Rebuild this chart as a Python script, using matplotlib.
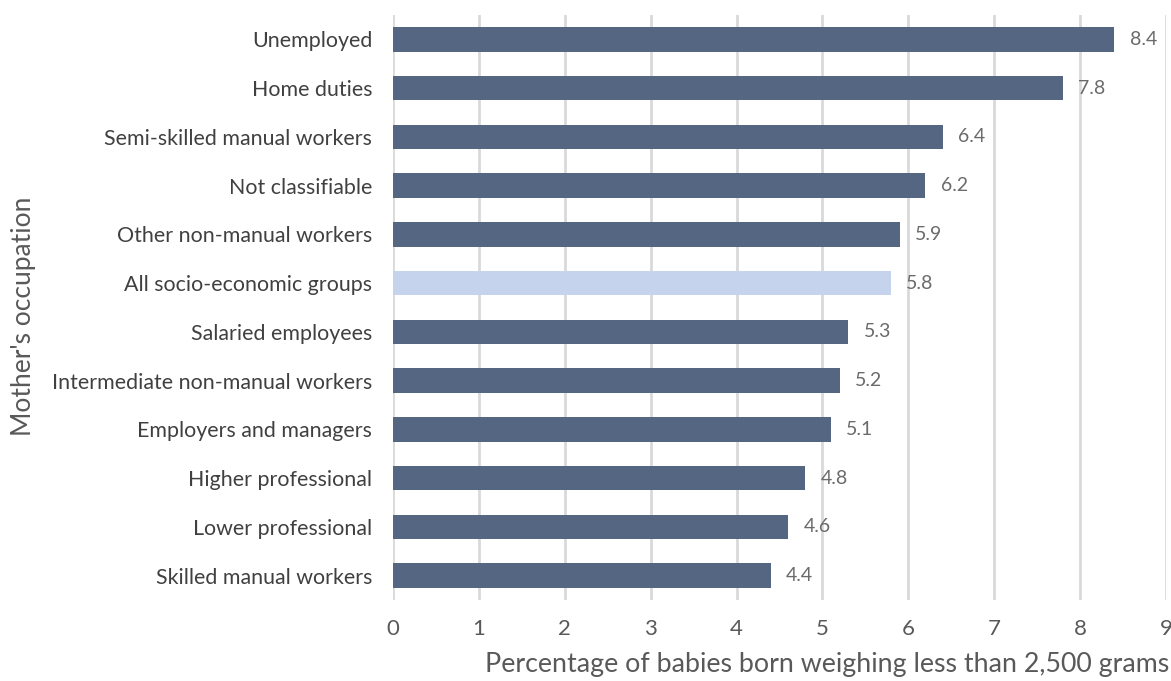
import matplotlib.pyplot as plt
import numpy as np

plt.rcParams['font.family'] = ['Lato', 'DejaVu Sans']

occupations = ["Unemployed", "Home duties", "Semi-skilled manual workers",
               "Not classifiable", "Other non-manual workers",
               "All socio-economic groups", "Salaried employees",
               "Intermediate non-manual workers", "Employers and managers",
               "Higher professional", "Lower professional",
               "Skilled manual workers"]
low_weight_pct = [8.4, 7.8, 6.4, 6.2, 5.9, 5.8, 5.3, 5.2, 5.1, 4.8, 4.6, 4.4]
highlight = "All socio-economic groups"

dark = "#556683"
light = "#c5d4ec"
colors = [light if o == highlight else dark for o in occupations]

fig = plt.figure(figsize=(11.71, 6.81), dpi=100)
ax = fig.add_axes([0.3356, 0.119, 0.9957 - 0.3356, 0.978 - 0.119])

y = np.arange(len(occupations))[::-1]
ax.barh(y, low_weight_pct, height=0.5, color=colors, zorder=3)

for yi, v in zip(y, low_weight_pct):
    ax.annotate(f"{v:.1f}", (v, yi), xytext=(11, 0), textcoords="offset points",
                va="center", ha="left", fontsize=14, color="#6b6b6b")

ax.set_xlim(0, 9)
ax.set_ylim(-0.5, len(occupations) - 0.5)
ax.set_xticks(range(10))
ax.set_yticks(y)
ax.set_yticklabels(occupations)
ax.tick_params(axis='y', length=0, pad=15, labelsize=15.4, labelcolor="#404040")
ax.tick_params(axis='x', length=0, pad=14, labelsize=16, labelcolor="#595959")
ax.grid(axis='x', color="#d9d9d9", linewidth=2, zorder=0)
for s in ax.spines.values():
    s.set_visible(False)

fig.text(0.9985, 0.006, "Percentage of babies born weighing less than 2,500 grams",
         ha="right", va="bottom", fontsize=19.3, color="#595959")
fig.text(0.02, 0.535, "Mother's occupation", rotation=90,
         ha="center", va="center", fontsize=19, color="#595959")

fig.savefig("out.png", dpi=100)
